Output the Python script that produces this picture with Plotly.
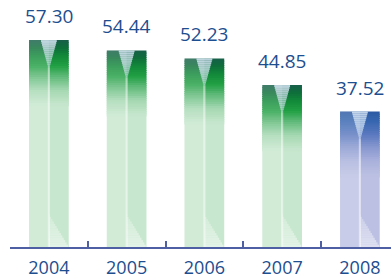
import plotly.graph_objects as go

years = ["2004", "2005", "2006", "2007", "2008"]
values = [57.30, 54.44, 52.23, 44.85, 37.52]
value_labels = ["57.30", "54.44", "52.23", "44.85", "37.52"]
palette = ["green", "green", "green", "green", "blue"]

BAR_W = 0.51
DEPTH = 18.0      # gradient depth below bar top (data units)
N = 30
OV = 0.3          # overlap to hide seams

stops = {
    "green": [(0.0, "#175f4a"), (0.12, "#0e6f3a"), (0.25, "#138a3a"), (0.40, "#22a044"),
              (0.55, "#5cb876"), (0.77, "#a5d8b1"), (1.0, "#c7e7ce")],
    "blue": [(0.0, "#2d5aa3"), (0.15, "#3766b0"), (0.35, "#5a78bf"), (0.55, "#8797cf"),
             (0.77, "#aab2dc"), (1.0, "#bcc1e3")],
}
body = {"green": "#c7e7ce", "blue": "#bcc1e3"}


def hex2rgb(h):
    h = h.lstrip("#")
    return [int(h[i:i + 2], 16) for i in (0, 2, 4)]


def interp(name, t):
    s = stops[name]
    for (t0, c0), (t1, c1) in zip(s[:-1], s[1:]):
        if t0 <= t <= t1:
            f = (t - t0) / (t1 - t0) if t1 > t0 else 0
            a, b = hex2rgb(c0), hex2rgb(c1)
            r = [round(a[k] + (b[k] - a[k]) * f) for k in range(3)]
            return "rgb(%d,%d,%d)" % tuple(r)
    return s[-1][1]


fig = go.Figure()
idx = list(range(len(years)))

# bar body
fig.add_trace(go.Bar(x=years, y=[v - DEPTH / 2 for v in values], base=[0] * len(values),
                     width=BAR_W, marker=dict(color=[body[p] for p in palette], line_width=0),
                     hoverinfo="skip"))
# gradient slices at top of bars
for j in range(N):
    d0 = DEPTH * j / N
    d1 = DEPTH * (j + 1) / N
    t = (d0 + d1) / 2 / DEPTH
    fig.add_trace(go.Bar(x=years, y=[d1 - d0 + OV] * len(values), base=[v - d1 - OV for v in values],
                         width=BAR_W, marker=dict(color=[interp(p, t) for p in palette], line_width=0),
                         hoverinfo="skip"))

# lighter left half
fig.add_trace(go.Bar(x=years, y=values, base=[0] * len(values), width=BAR_W / 2, offset=-BAR_W / 2,
                     marker=dict(color="rgba(255,255,255,0.18)", line_width=0), hoverinfo="skip"))

# light V highlight at the top centre (wedge narrowing downward)
V_H = 7.5
K = 14
for j in range(K):
    a = V_H * j / K
    b = V_H * (j + 1) / K
    w = 0.19 * (1 - (a + b) / 2 / V_H) + 0.02
    fig.add_trace(go.Bar(x=years, y=[b - a] * len(values), base=[v - b for v in values], width=w,
                         marker=dict(color="rgba(214,229,244,%.2f)" % (0.85 - 0.02 * j), line_width=0),
                         hoverinfo="skip"))

# thin centre line
fig.add_trace(go.Bar(x=years, y=[v - V_H for v in values], base=[0] * len(values), width=0.028,
                     marker=dict(color="rgba(255,255,255,0.5)", line_width=0), hoverinfo="skip"))

# diagonal highlight near bottom right
tri_h = 9.0
M = 14
for j in range(M):
    a = tri_h * j / M
    b = tri_h * (j + 1) / M
    w = (BAR_W / 2) * (1 - (a + b) / 2 / tri_h)
    fig.add_trace(go.Bar(x=years, y=[b - a] * len(values), base=[a] * len(values), width=w, offset=0,
                         marker=dict(color="rgba(255,255,255,%.2f)" % (0.5 - 0.02 * j), line_width=0),
                         hoverinfo="skip"))

for i, v, lab in zip(idx, values, value_labels):
    fig.add_annotation(x=i, y=v, text=lab, showarrow=False, yanchor="bottom", yshift=9,
                       font=dict(family="Open Sans", size=19, color="#1d4e8f"))

fig.update_layout(
    width=391, height=278,
    margin=dict(l=10, r=0, t=0, b=31, autoexpand=False),
    paper_bgcolor="white", plot_bgcolor="white",
    barmode="overlay", showlegend=False,
    xaxis=dict(type="category", range=[-0.5, 4.4], showline=True, linecolor="#4f5fa3", linewidth=1.5,
               ticks="inside", tickson="boundaries", ticklen=6, tickcolor="#4f5fa3", tickwidth=1.5,
               showgrid=False, zeroline=False, ticklabelstandoff=4, automargin=False,
               tickfont=dict(family="Open Sans", size=18, color="#1d4e8f")),
    yaxis=dict(range=[0, 68.4], visible=False, showgrid=False, zeroline=False, automargin=False),
)

fig.write_html("out.html", config={"displayModeBar": False},
               post_script="document.body.style.margin='0';")
